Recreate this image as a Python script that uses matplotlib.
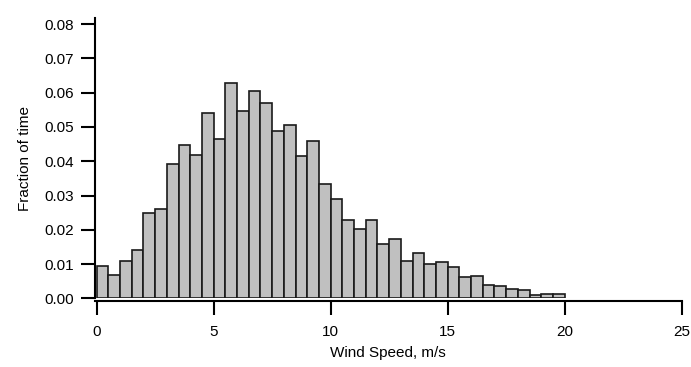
import numpy as np
import matplotlib
matplotlib.use("Agg")
import matplotlib.pyplot as plt

plt.rcParams['font.family'] = ['Liberation Sans', 'DejaVu Sans']

# wind speed bins (m/s), 0.5 wide, left edges
bin_left = np.arange(0, 20, 0.5)
bin_width = 0.5
fraction = [0.0094, 0.0067, 0.0108, 0.0142, 0.0250, 0.0260, 0.0391, 0.0448,
            0.0417, 0.0541, 0.0464, 0.0629, 0.0546, 0.0605, 0.0569, 0.0488,
            0.0505, 0.0415, 0.0460, 0.0334, 0.0290, 0.0228, 0.0202, 0.0228,
            0.0160, 0.0174, 0.0110, 0.0133, 0.0101, 0.0105, 0.0092, 0.0062,
            0.0065, 0.0040, 0.0035, 0.0028, 0.0024, 0.0009, 0.0012, 0.0013]
xticks = [0, 5, 10, 15, 20, 25]
yticks = [0.00, 0.01, 0.02, 0.03, 0.04, 0.05, 0.06, 0.07, 0.08]

fig = plt.figure(figsize=(6.91, 3.67), dpi=100)
ax = fig.add_axes([0.1375, 0.187, 0.849, 0.764])

ax.bar(bin_left, fraction, width=bin_width, align='edge',
       color='#c0c0c0', edgecolor='#1a1a1a', linewidth=1.2)

ax.set_xlim(-0.07, 25)
ax.set_ylim(0, 0.0818)
ax.set_xticks(xticks)
ax.set_xticklabels([str(x) for x in xticks])
ax.set_yticks(yticks)
ax.set_yticklabels(['%.2f' % y for y in yticks])

for s in ['top', 'right']:
    ax.spines[s].set_visible(False)
for s in ['left', 'bottom']:
    ax.spines[s].set_linewidth(1.5)
ax.spines['bottom'].set_position(('outward', 2))

ax.tick_params(axis='both', direction='out', length=10, width=1.5,
               labelsize=11, colors='black')
ax.tick_params(axis='y', pad=5)
ax.tick_params(axis='x', pad=7)

ax.set_xlabel('Wind Speed, m/s', fontsize=11, labelpad=5)
ax.set_ylabel('Fraction of time', fontsize=11, labelpad=9)

fig.savefig('out.png', dpi=100)
